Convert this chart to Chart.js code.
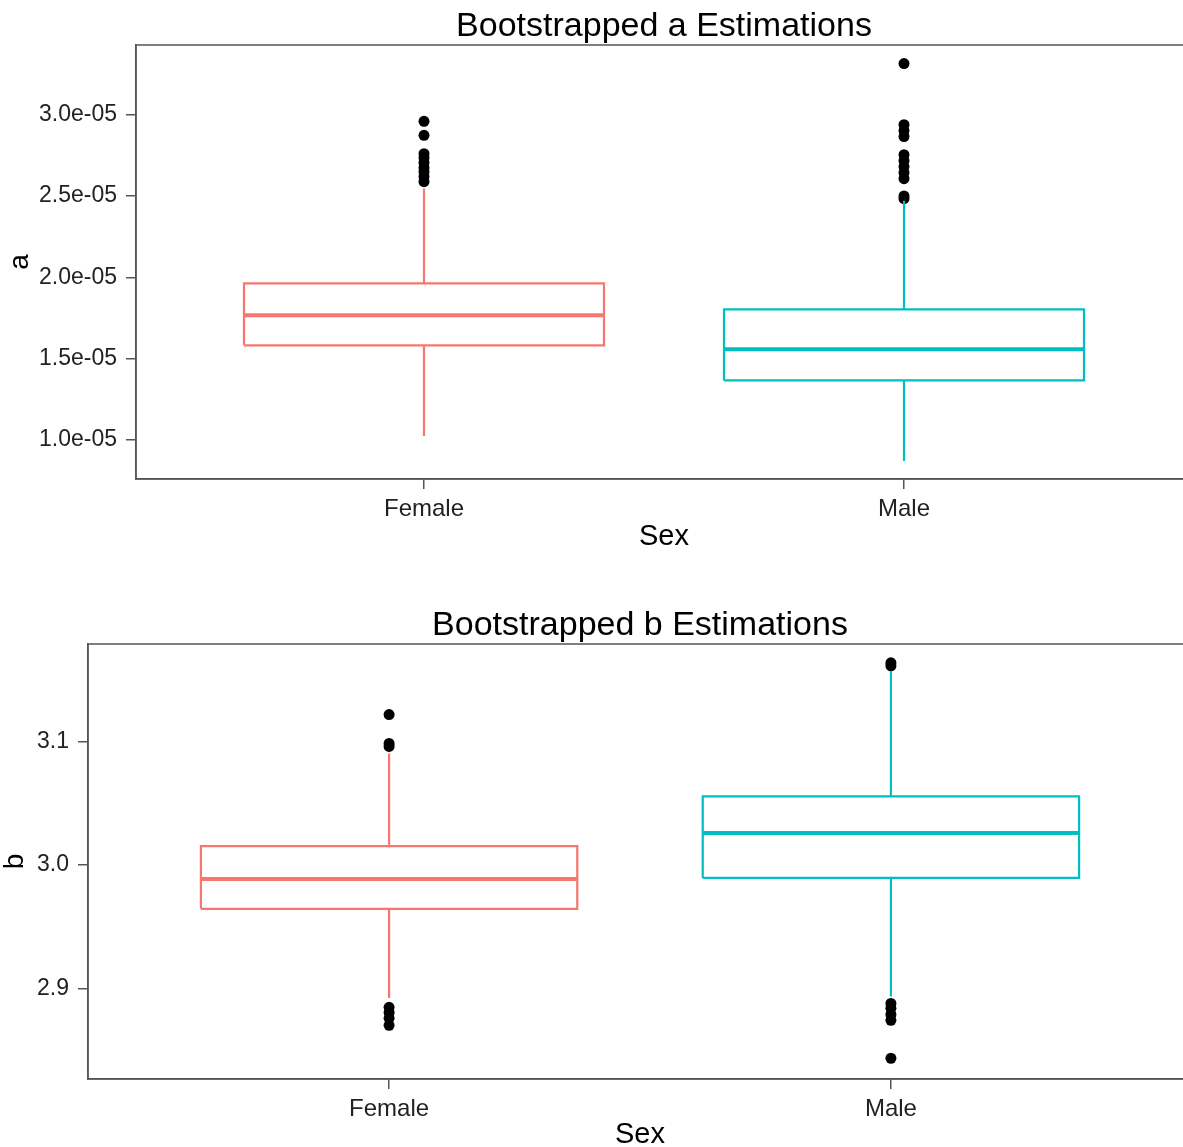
<!DOCTYPE html>
<html><head><meta charset="utf-8">
<script src="https://cdn.jsdelivr.net/npm/chart.js@4.4.0/dist/chart.umd.min.js"></script>
<style>
html,body{margin:0;padding:0;background:#fff;overflow:hidden;width:1183px;height:1147px;}
#wrapA{position:absolute;left:0;top:0;}
#wrapB{position:absolute;left:0;top:599px;}
canvas{display:block;}
</style></head><body>
<div id="wrapA"><canvas id="chartA" width="1200" height="554"></canvas></div>
<div id="wrapB"><canvas id="chartB" width="1200" height="553"></canvas></div>
<script>
// ---------- shared ----------
const categories = ['Female', 'Male'];
const groupColors = ['#F8766D', '#00BFC4'];

// ---------- plot a ----------
const aLowerWhisker = [1.025e-5, 0.871e-5];
const aQ1           = [1.582e-5, 1.366e-5];
const aMedian       = [1.766e-5, 1.557e-5];
const aQ3           = [1.963e-5, 1.803e-5];
const aUpperWhisker = [2.545e-5, 2.470e-5];
const aOutliersFemale = [2.959e-5, 2.873e-5, 2.760e-5, 2.735e-5, 2.705e-5, 2.674e-5, 2.649e-5, 2.618e-5, 2.588e-5];
const aOutliersMale   = [3.314e-5, 2.938e-5, 2.902e-5, 2.865e-5, 2.754e-5, 2.717e-5, 2.680e-5, 2.643e-5, 2.606e-5, 2.500e-5, 2.483e-5];
const aTickValues = [1.0e-5, 1.5e-5, 2.0e-5, 2.5e-5, 3.0e-5];
const aTickLabels = ['1.0e-05', '1.5e-05', '2.0e-05', '2.5e-05', '3.0e-05'];
const aRange = [0.76e-5, 3.428e-5];

// ---------- plot b ----------
const bLowerWhisker = [2.8923, 2.8935];
const bQ1           = [2.9645, 2.9895];
const bMedian       = [2.9887, 3.0258];
const bQ3           = [3.0153, 3.0556];
const bUpperWhisker = [3.0903, 3.1570];
const bOutliersFemale = [3.1218, 3.0984, 3.0960, 2.8847, 2.8806, 2.8758, 2.8702];
const bOutliersMale   = [3.1637, 3.1613, 2.8879, 2.8839, 2.8790, 2.8742, 2.8435];
const bTickValues = [2.9, 3.0, 3.1];
const bTickLabels = ['2.9', '3.0', '3.1'];
const bRange = [2.8267, 3.1789];

// ---------- styling constants ----------
const FONT = "'Liberation Sans', Arial, Helvetica, sans-serif";
const BOX_HALF = 0.375;     // ggplot default width 0.75
const X_RANGE = [0.4, 2.6]; // ggplot discrete expansion
const LINE_COL = '#555555';

function seg(points, color, width) {
  return { type: 'scatter', showLine: true, data: points, borderColor: color, backgroundColor: color,
           borderWidth: width, pointRadius: 0, pointHoverRadius: 0, borderCapStyle: 'butt',
           borderJoinStyle: 'miter', fill: false, tension: 0 };
}

function buildDatasets(lo, q1, med, q3, hi, outliers) {
  const ds = [];
  categories.forEach((c, i) => {
    const x = i + 1, col = groupColors[i];
    ds.push(seg([{x: x, y: q3[i]}, {x: x, y: hi[i]}], col, 2.2));
    ds.push(seg([{x: x, y: q1[i]}, {x: x, y: lo[i]}], col, 2.2));
    ds.push(seg([{x: x - BOX_HALF, y: q1[i]}, {x: x + BOX_HALF, y: q1[i]}, {x: x + BOX_HALF, y: q3[i]},
                 {x: x - BOX_HALF, y: q3[i]}, {x: x - BOX_HALF, y: q1[i]}], col, 2.2));
    ds.push(seg([{x: x - BOX_HALF, y: med[i]}, {x: x + BOX_HALF, y: med[i]}], col, 4));
  });
  categories.forEach((c, i) => {
    ds.push({ type: 'scatter', data: outliers[i].map(v => ({x: i + 1, y: v})),
              pointRadius: 5.5, pointHoverRadius: 5.5, backgroundColor: '#000', borderWidth: 0 });
  });
  return ds;
}

const panelBorder = {
  id: 'panelBorder',
  afterDatasetsDraw(chart) {
    const {ctx, chartArea: a} = chart;
    ctx.save();
    ctx.strokeStyle = LINE_COL;
    ctx.lineWidth = 1.5;
    ctx.strokeRect(a.left, a.top, a.right - a.left, a.bottom - a.top);
    ctx.restore();
  }
};

function makeChart(id, cfg) {
  return new Chart(document.getElementById(id), {
    type: 'scatter',
    data: { datasets: buildDatasets(cfg.lo, cfg.q1, cfg.med, cfg.q3, cfg.hi, cfg.outliers) },
    plugins: [panelBorder],
    options: {
      responsive: false, animation: false, devicePixelRatio: 1,
      layout: { padding: { left: 0, right: 8, top: 0, bottom: 0 } },
      plugins: {
        legend: { display: false }, tooltip: { enabled: false },
        title: { display: true, text: cfg.title, fullSize: false, color: '#000',
                 font: { family: FONT, size: 34, weight: 'normal', lineHeight: 1.0 },
                 padding: { top: 10, bottom: 1 } }
      },
      events: [],
      scales: {
        x: {
          type: 'linear', position: 'bottom', min: X_RANGE[0], max: X_RANGE[1],
          afterBuildTicks: s => { s.ticks = categories.map((c, i) => ({ value: i + 1 })); },
          afterFit: s => { s.height = cfg.xAxisHeight; },
          ticks: { callback: (v, i) => categories[i], color: '#222', font: { family: FONT, size: 24 },
                   padding: 6, maxRotation: 0, autoSkip: false },
          grid: { drawOnChartArea: false, drawTicks: true, tickLength: 10, color: LINE_COL, lineWidth: 1.5 },
          border: { display: true, color: LINE_COL, width: 1.5 },
          title: { display: true, text: 'Sex', color: '#000', font: { family: FONT, size: 29, lineHeight: 1.2 },
                   padding: { top: 0, bottom: 0 } }
        },
        y: {
          type: 'linear', position: 'left', min: cfg.range[0], max: cfg.range[1],
          afterBuildTicks: s => { s.ticks = cfg.tickValues.map(v => ({ value: v })); },
          afterFit: s => { s.width = cfg.yAxisWidth; },
          ticks: { callback: (v, i) => cfg.tickLabels[i], color: '#222', font: { family: FONT, size: 23 },
                   padding: 9, autoSkip: false },
          grid: { drawOnChartArea: false, drawTicks: true, tickLength: 10, color: LINE_COL, lineWidth: 1.5 },
          border: { display: true, color: LINE_COL, width: 1.5 },
          title: { display: true, text: cfg.yTitle, color: '#000',
                   font: { family: FONT, size: 28, lineHeight: cfg.yTitleLH },
                   padding: { top: 3, bottom: 0 } }
        }
      }
    }
  });
}

makeChart('chartA', {
  title: 'Bootstrapped a Estimations', yTitle: 'a', yTitleLH: 1.2,
  lo: aLowerWhisker, q1: aQ1, med: aMedian, q3: aQ3, hi: aUpperWhisker,
  outliers: [aOutliersFemale, aOutliersMale],
  tickValues: aTickValues, tickLabels: aTickLabels, range: aRange,
  yAxisWidth: 136, xAxisHeight: 75
});

makeChart('chartB', {
  title: 'Bootstrapped b Estimations', yTitle: 'b', yTitleLH: 0.85,
  lo: bLowerWhisker, q1: bQ1, med: bMedian, q3: bQ3, hi: bUpperWhisker,
  outliers: [bOutliersFemale, bOutliersMale],
  tickValues: bTickValues, tickLabels: bTickLabels, range: bRange,
  yAxisWidth: 88, xAxisHeight: 73
});
</script>
</body></html>
